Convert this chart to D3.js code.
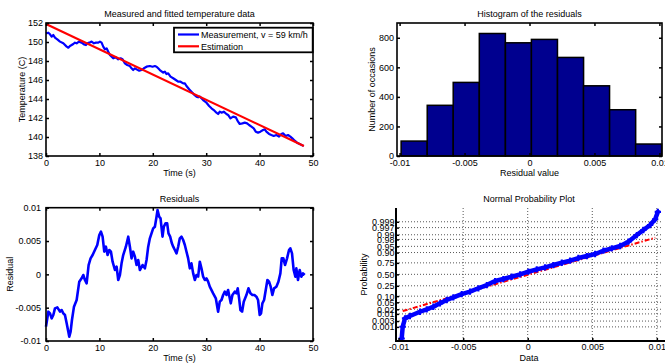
<!DOCTYPE html>
<html>
<head>
<meta charset="utf-8">
<script src="https://cdn.jsdelivr.net/npm/d3@7"></script>
<style>
  body { margin: 0; background: #fff; }
  svg text { font-family: "Liberation Sans", Arial, Helvetica, sans-serif; font-size: 9px; fill: #000; }
</style>
</head>
<body>
<svg id="chart" width="665" height="363"></svg>
<script>
// ---- Measured temperature (time in s, temperature in C) ----
const measTime = [0.00,0.44,0.75,1.06,1.37,1.68,2.12,2.62,3.24,3.87,4.18,4.49,4.80,5.11,5.42,5.74,6.17,6.67,7.11,7.48,7.73,8.10,8.54,8.98,9.35,9.79,10.10,10.41,10.72,11.03,11.35,11.66,11.97,12.59,13.09,13.53,13.97,14.34,14.78,15.21,15.71,16.02,16.33,16.65,16.96,17.46,17.89,18.33,18.83,19.45,19.95,20.39,20.70,21.01,21.32,21.95,22.26,22.57,22.88,23.32,23.82,24.31,24.75,25.19,25.69,26.00,26.31,26.81,27.24,27.68,28.18,28.49,28.80,29.11,29.55,30.05,30.55,30.99,31.42,31.92,32.23,32.54,32.86,33.29,33.79,34.10,34.54,35.04,35.54,35.97,36.28,36.78,37.22,37.66,38.03,38.47,38.90,39.28,39.71,40.15,40.65,40.96,41.27,41.77,42.21,42.64,43.14,43.64,44.08,44.39,44.89,45.32,45.76,46.13,46.57,47.01,47.51,48.00,48.25];
const measTemp = [150.91,150.98,150.81,150.56,150.74,150.46,150.28,150.04,149.86,149.51,149.40,149.58,149.68,149.79,149.93,149.86,150.04,149.93,149.75,149.68,149.86,149.93,150.04,149.86,149.93,149.93,150.04,149.93,149.51,149.23,149.33,148.98,148.63,148.28,148.39,148.18,148.28,148.18,147.75,147.58,147.47,147.23,147.05,147.23,147.12,146.98,147.05,147.23,147.40,147.47,147.40,147.47,147.40,147.23,147.05,146.77,146.88,146.63,146.70,146.35,146.18,146.00,145.82,145.82,145.65,145.65,145.37,145.02,144.77,144.49,144.25,144.18,144.25,144.07,143.82,143.61,143.26,143.02,142.84,142.56,142.42,142.67,142.56,142.67,142.42,142.32,141.96,142.14,142.07,141.61,141.37,141.44,141.51,141.44,141.26,141.09,140.91,140.56,140.46,140.56,140.74,140.81,140.56,140.32,140.21,140.11,140.21,140.04,140.32,140.39,140.11,140.21,140.04,139.86,139.61,139.40,139.26,139.12,139.05];

// ---- Fitted straight line ----
const fitTime = [0, 48.3];
const fitTemp = [151.9, 139.05];

// ---- Residuals over time ----
const resTime = [0.00,0.44,0.75,1.06,1.37,1.68,2.12,2.62,2.93,3.24,3.55,3.87,4.18,4.36,4.61,4.86,5.24,5.74,6.23,6.67,6.98,7.29,7.61,7.98,8.35,8.73,9.16,9.60,9.98,10.29,10.60,10.91,11.22,11.53,11.85,12.16,12.47,12.91,13.22,13.53,13.84,14.15,14.46,14.96,15.40,15.71,16.02,16.33,16.65,16.96,17.27,17.58,18.08,18.52,18.83,19.14,19.45,19.76,20.07,20.39,20.70,20.89,21.20,21.45,21.82,22.07,22.38,22.69,22.94,23.25,23.57,23.82,24.13,24.44,24.75,25.06,25.37,25.69,26.00,26.31,26.62,26.93,27.24,27.56,27.87,28.18,28.49,28.80,29.11,29.43,29.74,30.05,30.36,30.67,31.30,31.80,32.23,32.54,32.86,33.17,33.48,33.79,34.10,34.41,34.60,34.91,35.35,35.66,35.91,36.16,36.41,36.72,37.03,37.53,37.91,38.28,38.65,39.03,39.40,39.71,40.02,40.27,40.52,40.84,41.15,41.46,41.77,42.08,42.39,42.71,43.14,43.52,43.89,44.14,44.45,44.76,45.14,45.51,45.76,46.07,46.38,46.70,46.88,47.19,47.51,47.82,48.13,48.44];
const resValue = [-0.00785,-0.0056,-0.00585,-0.0066,-0.0061,-0.0051,-0.00495,-0.0056,-0.00535,-0.00585,-0.0061,-0.00735,-0.0086,-0.00935,-0.0086,-0.00685,-0.00485,-0.00385,-0.0011,-0.0006,-0.0001,-0.00085,-0.00135,0.0014,0.0024,0.0029,0.00365,0.0044,0.0059,0.0064,0.00565,0.0034,0.00415,0.0029,0.00365,0.0034,0.0019,0.00065,0.00115,-0.00085,-0.0001,0.00165,0.0029,0.00415,0.00565,0.00415,0.0024,0.0034,0.00265,0.0014,0.00215,0.00065,0.0014,0.0009,0.00215,0.00415,0.0054,0.00615,0.0069,0.00715,0.00865,0.00965,0.00865,0.0084,0.00565,0.00715,0.00765,0.00765,0.00615,0.00565,0.00465,0.00415,0.00365,0.00315,0.00415,0.0054,0.00565,0.00515,0.0044,0.0034,0.0024,0.0009,0.00165,0.00015,-0.00085,-0.0001,-0.00035,0.0019,0.0009,-0.00035,-0.00085,-0.0006,-0.0011,-0.00185,-0.00285,-0.0036,-0.0056,-0.0041,-0.00385,-0.0031,-0.0026,-0.0031,-0.00235,-0.0036,-0.00435,-0.0031,-0.0026,-0.00285,-0.0021,-0.0036,-0.00535,-0.0056,-0.0041,-0.0031,-0.0021,-0.00285,-0.0031,-0.0031,-0.00335,-0.00385,-0.0061,-0.00585,-0.00435,-0.00385,-0.00235,-0.00085,-0.0011,-0.00185,-0.0031,-0.0021,-0.00185,-0.0011,0.00015,0.0024,0.0024,0.0014,0.0024,0.00365,0.0039,0.00315,0.00065,-0.00035,0.0009,-0.00085,0.00065,-0.00035,0.00015,-0.0001];

// ---- Histogram of the residuals ----
const histCenters = [-0.00888,-0.00687,-0.00487,-0.00286,-0.00085,0.00115,0.00316,0.00516,0.00717,0.00917];
const histCounts = [101,343,498,829,766,789,667,475,313,81];
const histBinWidth = 0.002006;

// ---- Normal probability plot: ordered residuals and their probabilities ----
const probValue = [-0.00976,-0.00968,-0.00950,-0.00912,-0.00834,-0.00782,-0.00731,-0.00679,-0.00627,-0.00576,-0.00511,-0.00447,-0.00382,-0.00317,-0.00253,-0.00189,-0.00124,-0.00059,0.00005,0.00070,0.00134,0.00199,0.00264,0.00328,0.00392,0.00458,0.00522,0.00586,0.00651,0.00716,0.00780,0.00845,0.00896,0.00948,0.00987,0.01008];
const probLevel = [0.000082,0.00104,0.0048,0.00714,0.0139,0.0197,0.0283,0.0440,0.0655,0.0880,0.1232,0.1539,0.2061,0.2643,0.3468,0.3913,0.4439,0.5,0.5608,0.6156,0.6598,0.7078,0.7524,0.7881,0.8312,0.8590,0.8838,0.9174,0.9370,0.9520,0.9724,0.98956,0.99542,0.99813,0.99939,0.99988];
// reference normal line through the quartiles
const refLineValue = [-0.00968, 0.00988];
const refLineProb = [0.0154, 0.9843];

// ---- Tick values and labels ----
const timeTicks = [0, 10, 20, 30, 40, 50];
const tempTicks = [138, 140, 142, 144, 146, 148, 150, 152];
const countTicks = [0, 200, 400, 600, 800];
const residTicks = [-0.01, -0.005, 0, 0.005, 0.01];
const residTickLabels = ["-0.01", "-0.005", "0", "0.005", "0.01"];
const probTicks = [0.001, 0.003, 0.01, 0.02, 0.05, 0.10, 0.25, 0.50, 0.75, 0.90, 0.95, 0.98, 0.99, 0.997, 0.999];
const probTickLabels = ["0.001", "0.003", "0.01", "0.02", "0.05", "0.10", "0.25", "0.50", "0.75", "0.90", "0.95", "0.98", "0.99", "0.997", "0.999"];

// Inverse of the standard normal CDF (Acklam's rational approximation)
function normInv(p) {
  const a = [-3.969683028665376e+01, 2.209460984245205e+02, -2.759285104469687e+02, 1.383577518672690e+02, -3.066479806614716e+01, 2.506628277459239e+00];
  const b = [-5.447609879822406e+01, 1.615858368580409e+02, -1.556989798598866e+02, 6.680131188771972e+01, -1.328068155288572e+01];
  const c = [-7.784894002430293e-03, -3.223964580411365e-01, -2.400758277161838e+00, -2.549671010336931e+00, 4.374664141464968e+00, 2.938163982698783e+00];
  const d = [7.784695709041462e-03, 3.224671290700398e-01, 2.445134137142996e+00, 3.754408661907416e+00];
  const pl = 0.02425, ph = 1 - pl;
  let q, r;
  if (p < pl) {
    q = Math.sqrt(-2 * Math.log(p));
    return (((((c[0]*q+c[1])*q+c[2])*q+c[3])*q+c[4])*q+c[5]) / ((((d[0]*q+d[1])*q+d[2])*q+d[3])*q+1);
  }
  if (p <= ph) {
    q = p - 0.5; r = q * q;
    return (((((a[0]*r+a[1])*r+a[2])*r+a[3])*r+a[4])*r+a[5])*q / (((((b[0]*r+b[1])*r+b[2])*r+b[3])*r+b[4])*r+1);
  }
  q = Math.sqrt(-2 * Math.log(1 - p));
  return -(((((c[0]*q+c[1])*q+c[2])*q+c[3])*q+c[4])*q+c[5]) / ((((d[0]*q+d[1])*q+d[2])*q+d[3])*q+1);
}

const svg = d3.select("#chart");

// Boxed axes with inward ticks on all four sides
function boxedAxes(xs, ys, box, xt, xfmt, yt, yfmt, xPad, yPad) {
  const g = svg.append("g");
  const sides = [
    [d3.axisBottom(xs).tickValues(xt).tickFormat(xfmt).tickSize(-3).tickPadding(xPad), `translate(0,${box.b})`],
    [d3.axisTop(xs).tickValues(xt).tickFormat("").tickSize(-3), `translate(0,${box.t})`],
    [d3.axisLeft(ys).tickValues(yt).tickFormat(yfmt).tickSize(-3).tickPadding(yPad), `translate(${box.l},0)`],
    [d3.axisRight(ys).tickValues(yt).tickFormat("").tickSize(-3), `translate(${box.r},0)`]
  ];
  sides.forEach(([ax, tr]) => {
    const a = g.append("g").attr("transform", tr).call(ax);
    a.select(".domain").remove();
    a.selectAll(".tick line").attr("stroke", "#000").attr("stroke-width", 1.5);
    a.selectAll("text").attr("font-size", null).attr("font-family", null);
  });
  g.append("rect").attr("x", box.l).attr("y", box.t)
    .attr("width", box.r - box.l).attr("height", box.b - box.t)
    .attr("fill", "none").attr("stroke", "#000").attr("stroke-width", 1.6);
  return g;
}

function title(text, x, y) {
  svg.append("text").attr("x", x).attr("y", y).attr("text-anchor", "middle").text(text);
}
function yTitle(text, x, y) {
  svg.append("text").attr("transform", `translate(${x},${y}) rotate(-90)`).attr("text-anchor", "middle").text(text);
}

// ================= Measured and fitted temperature =================
{
  const box = { l: 46, r: 313, t: 23, b: 156 };
  const x = d3.scaleLinear().domain([0, 50]).range([box.l, box.r]);
  const y = d3.scaleLinear().domain([138, 152]).range([box.b, box.t]);
  const line = d3.line().x(d => x(d[0])).y(d => y(d[1]));

  svg.append("path").datum(d3.zip(measTime, measTemp)).attr("d", line)
    .attr("fill", "none").attr("stroke", "#0000ff").attr("stroke-width", 2.2).attr("stroke-linejoin", "round");
  svg.append("path").datum(d3.zip(fitTime, fitTemp)).attr("d", line)
    .attr("fill", "none").attr("stroke", "#ff0000").attr("stroke-width", 2.2);

  boxedAxes(x, y, box, timeTicks, d3.format("d"), tempTicks, d3.format("d"), 4, 3);
  title("Measured and fitted temperature data", (box.l + box.r) / 2, 17);
  title("Time (s)", (box.l + box.r) / 2, 176);
  yTitle("Temperature (C)", 25, (box.t + box.b) / 2);

  // legend
  const lg = svg.append("g");
  lg.append("rect").attr("x", 174).attr("y", 27.7).attr("width", 138.7).attr("height", 24.6)
    .attr("fill", "#fff").attr("stroke", "#000").attr("stroke-width", 1.8);
  const items = [["Measurement, v = 59 km/h", "#0000ff", 34.5], ["Estimation", "#ff0000", 46.3]];
  items.forEach(([t, c, yy]) => {
    lg.append("line").attr("x1", 178).attr("x2", 199).attr("y1", yy).attr("y2", yy)
      .attr("stroke", c).attr("stroke-width", 2.2);
    lg.append("text").attr("x", 201).attr("y", yy + 3.3).text(t);
  });
}

// ================= Histogram of the residuals =================
{
  const box = { l: 397, r: 662, t: 23, b: 156 };
  const x = d3.scaleLinear().domain([-0.0102, 0.0102]).range([box.l, box.r]);
  const y = d3.scaleLinear().domain([0, 900]).range([box.b, box.t]);

  svg.append("g").selectAll("rect").data(d3.zip(histCenters, histCounts)).join("rect")
    .attr("x", d => x(d[0] - histBinWidth / 2))
    .attr("width", d => x(d[0] + histBinWidth / 2) - x(d[0] - histBinWidth / 2))
    .attr("y", d => y(d[1]))
    .attr("height", d => y(0) - y(d[1]))
    .attr("fill", "#00008f").attr("stroke", "#000").attr("stroke-width", 1.5);

  boxedAxes(x, y, box, residTicks, (d, i) => residTickLabels[i], countTicks, d3.format("d"), 3.5, 3);
  title("Histogram of the residuals", (box.l + box.r) / 2, 17);
  title("Residual value", (box.l + box.r) / 2, 176);
  yTitle("Number of occasions", 375, (box.t + box.b) / 2);
}

// ================= Residuals over time =================
{
  const box = { l: 46, r: 313, t: 207.7, b: 341 };
  const x = d3.scaleLinear().domain([0, 50]).range([box.l, box.r]);
  const y = d3.scaleLinear().domain([-0.01, 0.01]).range([box.b, box.t]);
  const line = d3.line().x(d => x(d[0])).y(d => y(d[1]));

  svg.append("path").datum(d3.zip(resTime, resValue)).attr("d", line)
    .attr("fill", "none").attr("stroke", "#0000ff").attr("stroke-width", 2.6).attr("stroke-linejoin", "round");

  boxedAxes(x, y, box, timeTicks, d3.format("d"), residTicks, (d, i) => residTickLabels[i], 3.5, 5);
  title("Residuals", (box.l + box.r) / 2, 201.5);
  title("Time (s)", (box.l + box.r) / 2, 361);
  yTitle("Residual", 13.3, (box.t + box.b) / 2);
}

// ================= Normal probability plot =================
{
  const box = { l: 396, r: 662, t: 208, b: 341 };
  const x = d3.scaleLinear().domain([-0.0102, 0.0104]).range([box.l, box.r]);
  const z = d3.scaleLinear().domain([-3.92, 3.90]).range([box.b, box.t]);
  const py = p => z(normInv(p));

  // dotted grid
  const grid = svg.append("g").attr("stroke", "#444").attr("stroke-width", 0.9).attr("stroke-dasharray", "1,2");
  grid.selectAll("line.h").data(probTicks).join("line").attr("class", "h")
    .attr("x1", box.l).attr("x2", box.r).attr("y1", d => py(d)).attr("y2", d => py(d));
  grid.selectAll("line.v").data(residTicks.slice(1)).join("line").attr("class", "v")
    .attr("x1", d => x(d)).attr("x2", d => x(d)).attr("y1", box.t).attr("y2", box.b);

  // reference line (dash-dot)
  svg.append("line")
    .attr("x1", x(refLineValue[0])).attr("y1", py(refLineProb[0]))
    .attr("x2", x(refLineValue[1])).attr("y2", py(refLineProb[1]))
    .attr("stroke", "#ff0000").attr("stroke-width", 2).attr("stroke-dasharray", "5,2,1.5,2");

  // ordered data
  const pts = d3.zip(probValue, probLevel);
  svg.append("path").datum(pts)
    .attr("d", d3.line().x(d => x(d[0])).y(d => py(d[1])))
    .attr("fill", "none").attr("stroke", "#0000ff").attr("stroke-width", 4.5)
    .attr("stroke-linejoin", "round").attr("stroke-linecap", "round");
  const plus = d3.symbol().type(d3.symbolCross).size(22);
  svg.append("g").selectAll("path").data(pts).join("path")
    .attr("transform", d => `translate(${x(d[0])},${py(d[1])})`)
    .attr("d", plus).attr("fill", "#0000ff");

  // axes: left and bottom only
  const bx = svg.append("g").attr("transform", `translate(0,${box.b})`)
    .call(d3.axisBottom(x).tickValues(residTicks).tickFormat((d, i) => residTickLabels[i]).tickSize(-3).tickPadding(3));
  const ly = svg.append("g").attr("transform", `translate(${box.l},0)`)
    .call(d3.axisLeft(z).tickValues(probTicks.map(normInv)).tickFormat((d, i) => probTickLabels[i]).tickSize(-3).tickPadding(1.5));
  [bx, ly].forEach(a => {
    a.select(".domain").remove();
    a.selectAll(".tick line").attr("stroke", "#000").attr("stroke-width", 1.5);
    a.selectAll("text").attr("font-size", null).attr("font-family", null);
  });
  svg.append("path").attr("d", `M${box.l},${box.t}V${box.b}H${665}`)
    .attr("fill", "none").attr("stroke", "#000").attr("stroke-width", 2);

  title("Normal Probability Plot", (box.l + box.r) / 2, 201.5);
  title("Data", (box.l + box.r) / 2, 361);
  yTitle("Probability", 367, (box.t + box.b) / 2);
}
</script>
</body>
</html>
